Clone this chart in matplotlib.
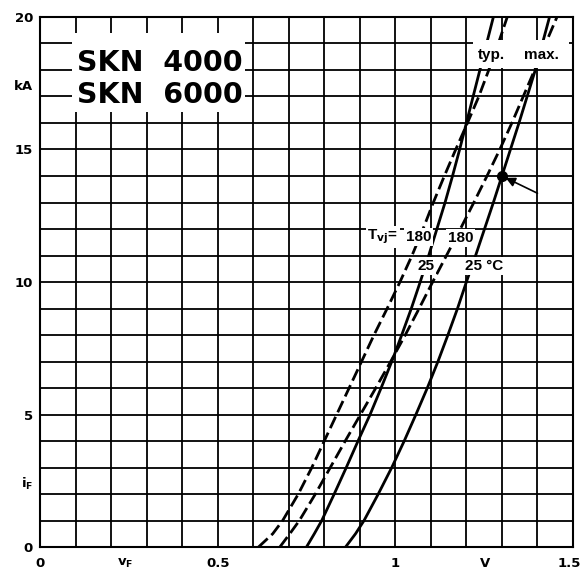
import matplotlib.pyplot as plt
import matplotlib.patches as patches
import numpy as np

# forward current i_F (kA) at which the voltages were read
i_f = [0, 0.5, 1, 2, 3, 4, 5, 6, 7, 8, 9, 10, 11, 12, 13, 14, 15, 16, 17, 18, 19, 20]
# forward voltage v_F (V): typ./max. at Tvj = 180 C (dashed) and 25 C (solid)
v_typ_180 = [0.615, 0.655, 0.683, 0.727, 0.765, 0.800, 0.835, 0.870, 0.905, 0.940, 0.977,
             1.013, 1.047, 1.078, 1.107, 1.138, 1.170, 1.203, 1.235, 1.263, 1.290, 1.315]
v_typ_25 = [0.750, 0.772, 0.793, 0.828, 0.862, 0.895, 0.929, 0.960, 0.990, 1.018, 1.045,
            1.070, 1.094, 1.117, 1.140, 1.161, 1.181, 1.200, 1.219, 1.238, 1.257, 1.276]
v_max_180 = [0.675, 0.703, 0.730, 0.775, 0.817, 0.859, 0.902, 0.945, 0.987, 1.028, 1.067,
             1.105, 1.144, 1.183, 1.221, 1.258, 1.294, 1.328, 1.360, 1.392, 1.423, 1.455]
v_max_25 = [0.860, 0.888, 0.912, 0.952, 0.990, 1.025, 1.058, 1.090, 1.120, 1.148, 1.175,
            1.200, 1.226, 1.251, 1.276, 1.300, 1.324, 1.348, 1.371, 1.394, 1.414, 1.434]

# marked point on the max. 25 C curve
dot_v = [1.3]
dot_i = [14]

x_ticks = [0, 0.239, 0.5, 1, 1.252, 1.49]
x_tick_labels = ['0', r'$\mathbf{v_F}$', '0.5', '1', 'V', '1.5']
y_ticks = [0, 2.45, 5, 10, 15, 17.45, 20]
y_tick_labels = ['0', r'$\mathbf{i_F}$', '5', '10', '15', 'kA', '20']

fig = plt.figure(figsize=(5.83, 5.74), dpi=100)
ax = fig.add_axes([0.0686, 0.047, 0.9142, 0.9234])
ax.set_xlim(0, 1.5)
ax.set_ylim(0, 20)

# grid 0.1 V x 1 kA
for gx in np.linspace(0, 1.5, 16):
    ax.axvline(gx, color='black', lw=1.3, zorder=1)
for gy in np.arange(0, 21, 1):
    ax.axhline(gy, color='black', lw=1.3, zorder=1)
for s in ax.spines.values():
    s.set_linewidth(1.5)

ax.set_xticks(x_ticks, x_tick_labels)
ax.set_yticks(y_ticks, y_tick_labels)
ax.tick_params(which='both', length=0)
ax.tick_params(axis='x', pad=7)
ax.tick_params(axis='y', pad=5)
for lab in ax.get_xticklabels() + ax.get_yticklabels():
    lab.set_fontweight('bold')
    lab.set_fontsize(9.5)

ax.plot(v_typ_180, i_f, color='black', lw=2.0, dashes=(4.5, 1.8), zorder=2)
ax.plot(v_max_180, i_f, color='black', lw=2.0, dashes=(4.5, 1.8), zorder=2)
ax.plot(v_typ_25, i_f, color='black', lw=2.0, zorder=2)
ax.plot(v_max_25, i_f, color='black', lw=2.0, zorder=2)

ax.plot(dot_v, dot_i, 'o', color='black', ms=7, zorder=5)
ax.annotate('', xy=(dot_v[0], dot_i[0]), xytext=(1.4, 13.35),
            arrowprops=dict(arrowstyle='-|>', color='black', lw=1.2,
                            mutation_scale=14, shrinkA=0, shrinkB=3), zorder=5)

# title box
ax.add_patch(patches.Rectangle((0.09, 16.4), 0.487, 3.0, facecolor='white',
                               edgecolor='none', zorder=3))
ax.text(0.336, 17.66, 'SKN  4000\nSKN  6000', ha='center', va='center',
        fontsize=20.5, fontweight='bold', linespacing=1.2, zorder=4)

# typ./max. box
ax.add_patch(patches.Rectangle((1.22, 18.08), 0.27, 1.04, facecolor='white',
                               edgecolor='none', zorder=3))
lbl = dict(family='Liberation Sans', fontweight='bold', fontsize=11, zorder=4,
           ha='center', va='center')
ax.text(1.27, 18.55, 'typ.', **lbl)
ax.text(1.41, 18.55, 'max.', **lbl)

wb = dict(boxstyle='square,pad=0.12', fc='white', ec='none')
ax.text(0.965, 11.7, r'T$_{\mathbf{vj}}$=', bbox=wb, **lbl)
ax.text(1.066, 11.7, '180', bbox=wb, **lbl)
ax.text(1.183, 11.66, '180', bbox=wb, **lbl)
ax.text(1.085, 10.6, '25', bbox=wb, **lbl)
ax.text(1.25, 10.6, '25 \u00b0C', bbox=wb, **lbl)

fig.savefig('out.png', dpi=100)
